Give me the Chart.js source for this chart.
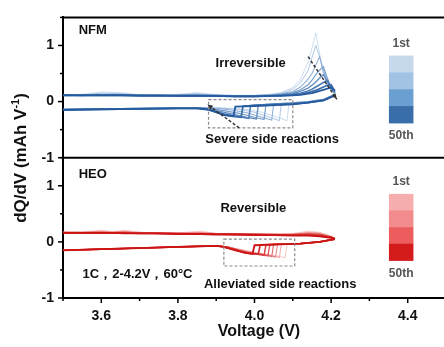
<!DOCTYPE html>
<html>
<head>
<meta charset="utf-8">
<script src="https://cdn.jsdelivr.net/npm/chart.js@4.4.1/dist/chart.umd.min.js"></script>
<style>
  html, body { margin: 0; padding: 0; background: #fff; overflow: hidden; width: 444px; height: 347px; }
  canvas { display: block; }
</style>
</head>
<body>
<canvas id="dqdv" width="456" height="347"></canvas>
<script>
// cycles drawn (1st light -> 50th dark)
const cycles = ['1st', '7th', '14th', '21st', '28th', '35th', '42nd', '50th'];

// NFM charge branch (shared voltage grid)
const nfmChargeV = [3.50, 3.55, 3.60, 3.65, 3.70, 3.75, 3.80, 3.85, 3.90, 3.95, 4.00, 4.04, 4.07, 4.10, 4.12, 4.14, 4.15, 4.16, 4.17, 4.18, 4.19, 4.20, 4.21];
const nfmCharge = [
  [0.12,0.13,0.17,0.16,0.12,0.12,0.13,0.16,0.12,0.11,0.11,0.13,0.16,0.25,0.40,0.70,0.95,1.22,0.85,0.55,0.35,0.22,0.15],
  [0.12,0.12,0.15,0.14,0.12,0.12,0.12,0.14,0.12,0.11,0.11,0.12,0.15,0.22,0.34,0.55,0.78,1.00,0.80,0.50,0.32,0.20,0.14],
  [0.12,0.12,0.13,0.13,0.12,0.11,0.12,0.13,0.11,0.11,0.11,0.12,0.14,0.18,0.26,0.40,0.50,0.65,0.80,0.55,0.35,0.22,0.15],
  [0.12,0.12,0.12,0.12,0.12,0.11,0.11,0.12,0.11,0.10,0.10,0.11,0.13,0.16,0.21,0.30,0.38,0.48,0.56,0.62,0.42,0.25,0.15],
  [0.12,0.12,0.12,0.12,0.11,0.11,0.11,0.11,0.11,0.10,0.10,0.11,0.12,0.14,0.18,0.24,0.29,0.35,0.42,0.48,0.36,0.24,0.15],
  [0.12,0.11,0.12,0.12,0.11,0.11,0.11,0.11,0.10,0.10,0.10,0.10,0.11,0.13,0.15,0.19,0.22,0.26,0.30,0.34,0.38,0.26,0.16],
  [0.11,0.11,0.11,0.11,0.11,0.11,0.10,0.10,0.10,0.10,0.10,0.10,0.11,0.12,0.13,0.16,0.18,0.20,0.23,0.26,0.29,0.30,0.18],
  [0.11,0.11,0.11,0.11,0.10,0.10,0.10,0.10,0.10,0.09,0.09,0.10,0.10,0.11,0.12,0.14,0.15,0.17,0.19,0.21,0.23,0.25,0.20]
];

// NFM discharge branch, [V, dQ/dV] read right to left
const nfmDischarge = [
  [[4.21,0.13],[4.18,0.04],[4.14,0.00],[4.10,-0.02],[4.09,-0.03],[4.085,-0.34],[4.06,-0.28],[4.02,-0.19],[3.98,-0.14],[3.94,-0.12],[3.90,-0.11],[3.80,-0.11],[3.70,-0.12],[3.60,-0.13],[3.50,-0.14]],
  [[4.21,0.13],[4.18,0.04],[4.14,0.00],[4.10,-0.02],[4.07,-0.03],[4.065,-0.34],[4.04,-0.28],[4.00,-0.19],[3.96,-0.14],[3.92,-0.12],[3.88,-0.11],[3.80,-0.11],[3.70,-0.12],[3.60,-0.13],[3.50,-0.14]],
  [[4.21,0.13],[4.18,0.04],[4.14,0.00],[4.10,-0.02],[4.05,-0.04],[4.045,-0.33],[4.02,-0.28],[3.98,-0.20],[3.94,-0.15],[3.90,-0.12],[3.85,-0.11],[3.80,-0.11],[3.70,-0.12],[3.60,-0.13],[3.50,-0.14]],
  [[4.21,0.12],[4.18,0.03],[4.14,-0.01],[4.10,-0.03],[4.03,-0.05],[4.025,-0.32],[4.00,-0.28],[3.96,-0.21],[3.92,-0.16],[3.88,-0.12],[3.85,-0.11],[3.80,-0.11],[3.70,-0.12],[3.60,-0.13],[3.50,-0.14]],
  [[4.21,0.12],[4.18,0.03],[4.14,-0.01],[4.10,-0.03],[4.01,-0.06],[4.005,-0.31],[3.98,-0.28],[3.94,-0.22],[3.90,-0.16],[3.87,-0.12],[3.80,-0.12],[3.70,-0.12],[3.60,-0.13],[3.50,-0.14]],
  [[4.21,0.12],[4.18,0.03],[4.14,-0.01],[4.10,-0.04],[4.00,-0.06],[3.99,-0.07],[3.985,-0.30],[3.96,-0.27],[3.92,-0.22],[3.89,-0.16],[3.86,-0.12],[3.80,-0.12],[3.70,-0.13],[3.60,-0.13],[3.50,-0.14]],
  [[4.21,0.11],[4.18,0.02],[4.14,-0.02],[4.10,-0.04],[4.00,-0.07],[3.97,-0.08],[3.965,-0.28],[3.94,-0.26],[3.91,-0.21],[3.88,-0.15],[3.85,-0.12],[3.80,-0.12],[3.70,-0.13],[3.60,-0.14],[3.50,-0.15]],
  [[4.21,0.11],[4.18,0.02],[4.14,-0.02],[4.10,-0.05],[4.00,-0.08],[3.95,-0.09],[3.945,-0.26],[3.92,-0.24],[3.90,-0.19],[3.88,-0.14],[3.85,-0.12],[3.80,-0.12],[3.70,-0.13],[3.60,-0.14],[3.50,-0.15]]
];

// HEO charge branch
const heoChargeV = [3.50, 3.55, 3.60, 3.63, 3.66, 3.70, 3.75, 3.80, 3.86, 3.90, 3.95, 4.00, 4.05, 4.10, 4.14, 4.17, 4.20, 4.21];
const heoCharge = [
  [0.17,0.17,0.21,0.18,0.21,0.17,0.16,0.16,0.19,0.15,0.15,0.14,0.14,0.15,0.19,0.17,0.10,0.06],
  [0.17,0.17,0.19,0.17,0.19,0.17,0.16,0.16,0.17,0.15,0.15,0.14,0.14,0.14,0.17,0.16,0.10,0.06],
  [0.17,0.17,0.18,0.17,0.18,0.16,0.16,0.15,0.16,0.15,0.14,0.14,0.13,0.14,0.16,0.15,0.09,0.06],
  [0.17,0.17,0.17,0.17,0.17,0.16,0.16,0.15,0.15,0.15,0.14,0.14,0.13,0.13,0.15,0.14,0.09,0.06],
  [0.17,0.16,0.17,0.16,0.17,0.16,0.15,0.15,0.15,0.14,0.14,0.13,0.13,0.13,0.14,0.13,0.09,0.06],
  [0.16,0.16,0.16,0.16,0.16,0.16,0.15,0.15,0.14,0.14,0.14,0.13,0.13,0.12,0.13,0.12,0.08,0.06],
  [0.16,0.16,0.16,0.16,0.16,0.15,0.15,0.14,0.14,0.14,0.13,0.13,0.12,0.12,0.12,0.11,0.08,0.05],
  [0.16,0.16,0.16,0.16,0.15,0.15,0.15,0.14,0.14,0.13,0.13,0.12,0.12,0.11,0.11,0.10,0.07,0.05]
];

// HEO discharge branch
const heoDischarge = [
  [[4.21,0.05],[4.17,0.00],[4.12,-0.03],[4.085,-0.04],[4.08,-0.28],[4.05,-0.24],[4.01,-0.20],[3.97,-0.14],[3.93,-0.09],[3.90,-0.07],[3.80,-0.09],[3.70,-0.11],[3.60,-0.13],[3.50,-0.15]],
  [[4.21,0.05],[4.17,0.00],[4.12,-0.03],[4.07,-0.04],[4.065,-0.28],[4.04,-0.24],[4.00,-0.20],[3.97,-0.15],[3.93,-0.09],[3.90,-0.07],[3.80,-0.09],[3.70,-0.11],[3.60,-0.13],[3.50,-0.15]],
  [[4.21,0.05],[4.17,0.00],[4.12,-0.03],[4.06,-0.04],[4.055,-0.27],[4.03,-0.23],[4.00,-0.20],[3.97,-0.16],[3.93,-0.09],[3.90,-0.07],[3.80,-0.09],[3.70,-0.11],[3.60,-0.13],[3.50,-0.15]],
  [[4.21,0.05],[4.17,0.00],[4.12,-0.03],[4.05,-0.04],[4.045,-0.26],[4.02,-0.22],[3.99,-0.20],[3.96,-0.15],[3.93,-0.09],[3.90,-0.07],[3.80,-0.09],[3.70,-0.11],[3.60,-0.13],[3.50,-0.15]],
  [[4.21,0.05],[4.17,0.00],[4.12,-0.03],[4.04,-0.05],[4.035,-0.25],[4.01,-0.21],[3.99,-0.20],[3.96,-0.15],[3.93,-0.09],[3.90,-0.07],[3.80,-0.09],[3.70,-0.11],[3.60,-0.13],[3.50,-0.15]],
  [[4.21,0.05],[4.17,0.00],[4.12,-0.03],[4.03,-0.05],[4.025,-0.24],[4.00,-0.21],[3.98,-0.20],[3.95,-0.14],[3.92,-0.09],[3.90,-0.07],[3.80,-0.09],[3.70,-0.11],[3.60,-0.13],[3.50,-0.15]],
  [[4.21,0.05],[4.17,0.00],[4.12,-0.03],[4.015,-0.05],[4.01,-0.22],[3.99,-0.21],[3.97,-0.19],[3.95,-0.14],[3.92,-0.09],[3.90,-0.07],[3.80,-0.09],[3.70,-0.11],[3.60,-0.13],[3.50,-0.15]],
  [[4.21,0.05],[4.17,0.00],[4.12,-0.03],[4.05,-0.05],[4.00,-0.06],[3.995,-0.21],[3.98,-0.20],[3.95,-0.15],[3.92,-0.09],[3.90,-0.07],[3.80,-0.09],[3.70,-0.11],[3.60,-0.13],[3.50,-0.15]]
];

const nfmLegend = ['#c5d8ec', '#a2c3e3', '#6b9fd1', '#3a6ea8'];
const heoLegend = ['#f6adad', '#f28b8b', '#ec5e5e', '#d41c1c'];

const FONT = "'Liberation Sans', Arial, sans-serif";
Chart.defaults.font.family = FONT;

function mix(a, b, t) {
  return 'rgb(' + a.map((v, i) => Math.round(v + (b[i] - v) * t)).join(',') + ')';
}

function cycleSets(chargeV, charge, discharge, axis, light, dark) {
  const out = [];
  const n = cycles.length;
  cycles.forEach((name, i) => {
    const t = i / (n - 1);
    const style = {
      borderColor: mix(light, dark, t),
      borderWidth: 0.7 + t * 1.1,
      pointRadius: 0,
      tension: 0,
      fill: false,
      yAxisID: axis,
      order: n - i
    };
    out.push(Object.assign({ label: name + ' charge', data: chargeV.map((v, k) => ({ x: v, y: charge[i][k] })) }, style));
    out.push(Object.assign({ label: name + ' discharge', data: discharge[i].map(p => ({ x: p[0], y: p[1] })) }, style));
  });
  return out;
}

const datasets = [].concat(
  cycleSets(nfmChargeV, nfmCharge, nfmDischarge, 'yTop', [182, 208, 235], [36, 90, 158]),
  cycleSets(heoChargeV, heoCharge, heoDischarge, 'yBot', [246, 175, 175], [204, 20, 20])
);

function yAxis() {
  return {
    type: 'linear',
    position: 'left',
    stack: 'panels',
    stackWeight: 1,
    min: -1,
    max: 1.5,
    grid: { display: false, drawTicks: false },
    border: { display: true, color: '#000', width: 2 },
    ticks: {
      stepSize: 0.5,
      padding: 9,
      color: '#111',
      font: { size: 14, weight: 'bold' },
      callback: v => Number.isInteger(v) ? String(v) : ''
    },
    afterFit: s => { s.width = 63; }
  };
}

function arrow(ctx, x1, y1, x2, y2) {
  ctx.save();
  ctx.setLineDash([3, 2]);
  ctx.beginPath(); ctx.moveTo(x1, y1); ctx.lineTo(x2, y2); ctx.stroke();
  ctx.setLineDash([]);
  const a = Math.atan2(y2 - y1, x2 - x1);
  ctx.beginPath();
  ctx.moveTo(x2, y2);
  ctx.lineTo(x2 - 6 * Math.cos(a - 0.4), y2 - 6 * Math.sin(a - 0.4));
  ctx.lineTo(x2 - 6 * Math.cos(a + 0.4), y2 - 6 * Math.sin(a + 0.4));
  ctx.closePath(); ctx.fill();
  ctx.restore();
}

const overlay = {
  id: 'overlay',
  afterDraw(chart) {
    const { ctx, chartArea: a } = chart;
    const x = chart.scales.x, yT = chart.scales.yTop, yB = chart.scales.yBot;
    ctx.save();

    // frame lines: top edge and panel divider
    ctx.strokeStyle = '#000';
    ctx.lineWidth = 2;
    [yT.getPixelForValue(1.5), yT.getPixelForValue(-1)].forEach(py => {
      ctx.beginPath(); ctx.moveTo(a.left - 1, py); ctx.lineTo(a.right, py); ctx.stroke();
    });

    // tick marks (outward, minor shorter)
    ctx.lineWidth = 1.5;
    [yT, yB].forEach(s => {
      for (let k = -2; k <= 3; k++) {
        const py = s.getPixelForValue(k / 2);
        const len = k % 2 === 0 ? 5 : 3;
        ctx.beginPath(); ctx.moveTo(a.left, py); ctx.lineTo(a.left - len, py); ctx.stroke();
      }
    });
    for (let k = 35; k <= 45; k++) {
      const px = x.getPixelForValue(k / 10);
      const len = k % 2 === 0 ? 5 : 3;
      ctx.beginPath(); ctx.moveTo(px, a.bottom); ctx.lineTo(px, a.bottom + len); ctx.stroke();
    }

    // dashed boxes
    ctx.strokeStyle = '#8a8a8a';
    ctx.lineWidth = 1.2;
    ctx.setLineDash([3, 2]);
    const box = (s, x1, x2, y1, y2) => {
      const l = x.getPixelForValue(x1), r = x.getPixelForValue(x2);
      const t = s.getPixelForValue(y1), b = s.getPixelForValue(y2);
      ctx.strokeRect(l, t, r - l, b - t);
    };
    box(yT, 3.88, 4.10, 0.035, -0.47);
    box(yB, 3.92, 4.105, 0.05, -0.43);
    ctx.setLineDash([]);

    // dashed arrows
    ctx.strokeStyle = '#333';
    ctx.fillStyle = '#333';
    ctx.lineWidth = 1.5;
    arrow(ctx, x.getPixelForValue(4.14), yT.getPixelForValue(0.8), x.getPixelForValue(4.215), yT.getPixelForValue(0.04));
    arrow(ctx, x.getPixelForValue(3.96), yT.getPixelForValue(-0.47), x.getPixelForValue(3.877), yT.getPixelForValue(-0.05));

    // labels
    ctx.fillStyle = '#111';
    ctx.textBaseline = 'middle';
    ctx.font = 'bold 13px ' + FONT;
    ctx.textAlign = 'left';
    ctx.fillText('NFM', x.getPixelForValue(3.541), yT.getPixelForValue(1.27));
    ctx.fillText('HEO', x.getPixelForValue(3.541), yB.getPixelForValue(1.2));
    ctx.fillText('1C，2-4.2V，60°C', x.getPixelForValue(3.551), yB.getPixelForValue(-0.58));
    ctx.textAlign = 'center';
    ctx.fillText('Irreversible', x.getPixelForValue(3.99), yT.getPixelForValue(0.68));
    ctx.fillText('Severe side reactions', x.getPixelForValue(4.046), yT.getPixelForValue(-0.68));
    ctx.fillText('Reversible', x.getPixelForValue(3.997), yB.getPixelForValue(0.59));
    ctx.fillText('Alleviated side reactions', x.getPixelForValue(4.067), yB.getPixelForValue(-0.75));

    // cycle colour keys
    const key = (s, colors, topVal, botVal) => {
      const l = x.getPixelForValue(4.351), r = x.getPixelForValue(4.415);
      const t = s.getPixelForValue(topVal), b = s.getPixelForValue(botVal);
      const h = (b - t) / colors.length;
      colors.forEach((c, i) => { ctx.fillStyle = c; ctx.fillRect(l, t + i * h, r - l, h + 0.5); });
      ctx.fillStyle = '#555';
      ctx.font = 'bold 12px ' + FONT;
      ctx.fillText('1st', (l + r) / 2, t - 12);
      ctx.fillText('50th', (l + r) / 2, b + 13);
    };
    key(yT, nfmLegend, 0.82, -0.38);
    key(yB, heoLegend, 0.855, -0.33);

    // axis titles
    ctx.fillStyle = '#111';
    ctx.font = 'bold 16px ' + FONT;
    ctx.textAlign = 'center';
    ctx.fillText('Voltage (V)', 259, 332);

    ctx.save();
    ctx.translate(21, 158);
    ctx.rotate(-Math.PI / 2);
    ctx.textAlign = 'left';
    const main = 'dQ/dV (mAh V', sup = '-1', end = ')';
    ctx.font = 'bold 17px ' + FONT;
    const w1 = ctx.measureText(main).width, w3 = ctx.measureText(end).width;
    ctx.font = 'bold 11px ' + FONT;
    const w2 = ctx.measureText(sup).width;
    let sx = -(w1 + w2 + w3) / 2;
    ctx.font = 'bold 17px ' + FONT;
    ctx.fillText(main, sx, 0); sx += w1;
    ctx.font = 'bold 11px ' + FONT;
    ctx.fillText(sup, sx, -5); sx += w2;
    ctx.font = 'bold 17px ' + FONT;
    ctx.fillText(end, sx, 0);
    ctx.restore();

    ctx.restore();
  }
};

new Chart(document.getElementById('dqdv'), {
  type: 'line',
  data: { datasets: datasets },
  options: {
    responsive: false,
    animation: false,
    layout: { padding: { top: 11, right: 3, left: 0, bottom: 0 } },
    plugins: { legend: { display: false }, tooltip: { enabled: false } },
    scales: {
      x: {
        type: 'linear',
        min: 3.5,
        max: 4.5,
        grid: { display: false, drawTicks: false },
        border: { display: true, color: '#000', width: 2 },
        ticks: {
          stepSize: 0.1,
          autoSkip: false,
          maxRotation: 0,
          padding: 10,
          color: '#111',
          font: { size: 14, weight: 'bold' },
          callback: v => Math.round(v * 10) % 2 === 0 ? v.toFixed(1) : ''
        },
        afterFit: s => { s.height = 49; }
      },
      // stacked panels are placed bottom-up in definition order
      yBot: yAxis(),
      yTop: yAxis()
    }
  },
  plugins: [overlay]
});
</script>
</body>
</html>
